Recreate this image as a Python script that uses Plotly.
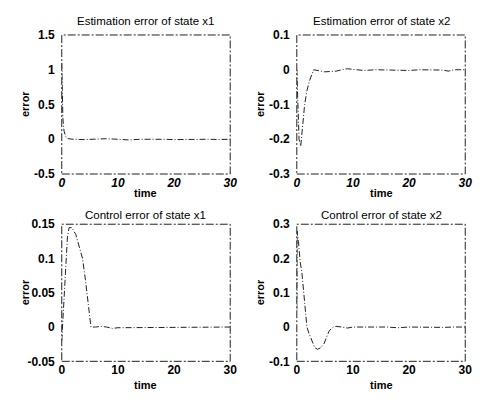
import plotly.graph_objects as go

# ---- data ----
t_est1 = [0, 0.1, 0.2, 0.4, 0.7, 1, 2, 4, 6, 8, 10, 12, 14, 16, 18, 20, 22, 24, 26, 28, 30]
e_est1 = [1.1, 0.6, 0.3, 0.12, 0.04, 0.01, 0.0, -0.005, 0.0, 0.008, 0.0, -0.01, 0.0, 0.005, 0.0,
          -0.005, 0.0, 0.003, 0.0, -0.003, 0.0]

t_est2 = [0, 0.15, 0.4, 0.7, 1.0, 1.4, 1.8, 2.3, 3, 4, 5, 6, 7, 8, 9, 10, 12, 14, 16, 18, 20,
          22, 24, 26, 27, 28, 30]
e_est2 = [0, -0.1, -0.2, -0.22, -0.17, -0.1, -0.06, -0.03, 0.0, -0.003, -0.006, -0.005, -0.004,
          0.0, 0.003, 0.001, -0.002, 0.0, -0.001, 0.0, -0.002, 0.0, 0.0, -0.001, -0.004, 0.0, 0.0]

t_ctl1 = [0, 0.3, 0.6, 1.0, 1.3, 1.8, 2.5, 3.2, 3.7, 4.2, 4.7, 5.2, 6, 7, 8, 9, 10, 12, 14, 16,
          18, 20, 22, 24, 26, 28, 30]
e_ctl1 = [-0.02, 0.03, 0.08, 0.13, 0.145, 0.145, 0.135, 0.115, 0.1, 0.07, 0.035, 0.0, 0.0,
          0.001, 0.0, -0.002, -0.001, -0.001, 0.0, 0.0, -0.001, 0.0, 0.0, -0.001, 0.0, 0.0, 0.0]

t_ctl2 = [0, 0.05, 0.3, 0.6, 0.9, 1.2, 1.5, 1.8, 2.2, 2.7, 3.2, 3.7, 4.3, 4.8, 5.3, 5.8, 6.5, 7,
          8, 9, 10, 12, 14, 16, 18, 20, 22, 24, 26, 28, 30]
e_ctl2 = [0.05, 0.28, 0.25, 0.19, 0.16, 0.1, 0.05, 0.0, -0.02, -0.04, -0.06, -0.065, -0.06,
          -0.05, -0.03, -0.01, 0.0, 0.002, 0.0, -0.003, 0.0, -0.001, 0.0, 0.0, -0.002, 0.0,
          -0.001, 0.0, -0.001, 0.0, 0.0]

titles = ["Estimation error of state x1", "Estimation error of state x2",
          "Control error of state x1", "Control error of state x2"]
x_ticks = [0, 10, 20, 30]
y_ticks = [[-0.5, 0, 0.5, 1, 1.5], [-0.3, -0.2, -0.1, 0, 0.1],
           [-0.05, 0, 0.05, 0.1, 0.15], [-0.1, 0, 0.1, 0.2, 0.3]]
y_labels = [["-0.5", "0", "0.5", "1", "1.5"], ["-0.3", "-0.2", "-0.1", "0", "0.1"],
            ["-0.05", "0", "0.05", "0.1", "0.15"], ["-0.1", "0", "0.1", "0.2", "0.3"]]

series = [(t_est1, e_est1), (t_est2, e_est2), (t_ctl1, e_ctl1), (t_ctl2, e_ctl2)]

W, H = 484, 405
# pixel boxes (left, right, top, bottom)
boxes = [(60, 232, 29, 173), (300, 472, 29, 173), (60, 232, 225, 367), (300, 472, 225, 367)]
title_y = [14, 14, 215, 215]
xlab_y = [193, 193, 392, 392]
ylab_x = [22, 262, 22, 262]

FONT = "Liberation Sans, Arial, sans-serif"
fig = go.Figure()
for i, (t, e) in enumerate(series):
    ax = "" if i == 0 else str(i + 1)
    fig.add_trace(go.Scatter(x=t, y=e, mode="lines", xaxis="x" + ax, yaxis="y" + ax,
                             line=dict(color="#222222", width=1, dash="6px,2px,1px,2px"),
                             showlegend=False))
    l, r, tp, b = boxes[i]
    italic = "italic" if i < 2 else "normal"
    fig.layout["xaxis" + ax] = dict(
        domain=[l / W, r / W], range=[0, 30], tickvals=x_ticks, ticks="",
        showgrid=False, zeroline=False, showline=False, anchor="y" + ax,
        tickfont=dict(family=FONT, size=12, color="black", weight="bold", style=italic),
        ticklabelstandoff=0, ticklabeloverflow="allow")
    fig.layout["yaxis" + ax] = dict(
        domain=[1 - b / H, 1 - tp / H], range=[y_ticks[i][0], y_ticks[i][-1]],
        tickvals=y_ticks[i], ticktext=y_labels[i], ticks="",
        showgrid=False, zeroline=False, showline=False, anchor="x" + ax,
        tickfont=dict(family=FONT, size=12, color="black", weight="bold"),
        ticklabelstandoff=6, ticklabeloverflow="allow")
    fig.add_shape(type="rect", xref="x" + ax + " domain", yref="y" + ax + " domain",
                  x0=0, x1=1, y0=0, y1=1,
                  line=dict(color="#222222", width=1, dash="8px,2px,2px,2px"))
    cx = (l + r) / 2 / W
    fig.add_annotation(text=titles[i], x=cx, y=1 - title_y[i] / H, xref="paper", yref="paper",
                       showarrow=False, font=dict(family=FONT, size=11.5, color="black"),
                       xanchor="center", yanchor="middle")
    fig.add_annotation(text="<b>time</b>", x=cx, y=1 - xlab_y[i] / H, xref="paper",
                       yref="paper", showarrow=False,
                       font=dict(family=FONT, size=11, color="black"),
                       xanchor="center", yanchor="middle")
    fig.add_annotation(text="<b>error</b>", x=ylab_x[i] / W, y=1 - (tp + b) / 2 / H,
                       xref="paper", yref="paper", showarrow=False, textangle=-90,
                       font=dict(family=FONT, size=11, color="black"),
                       xanchor="center", yanchor="middle")

fig.update_layout(width=W, height=H, margin=dict(l=0, r=0, t=0, b=0),
                  plot_bgcolor="white", paper_bgcolor="white")
fig.write_html("out.html", config={"displayModeBar": False},
               post_script="document.body.style.margin='0';document.body.style.overflow='hidden';")
